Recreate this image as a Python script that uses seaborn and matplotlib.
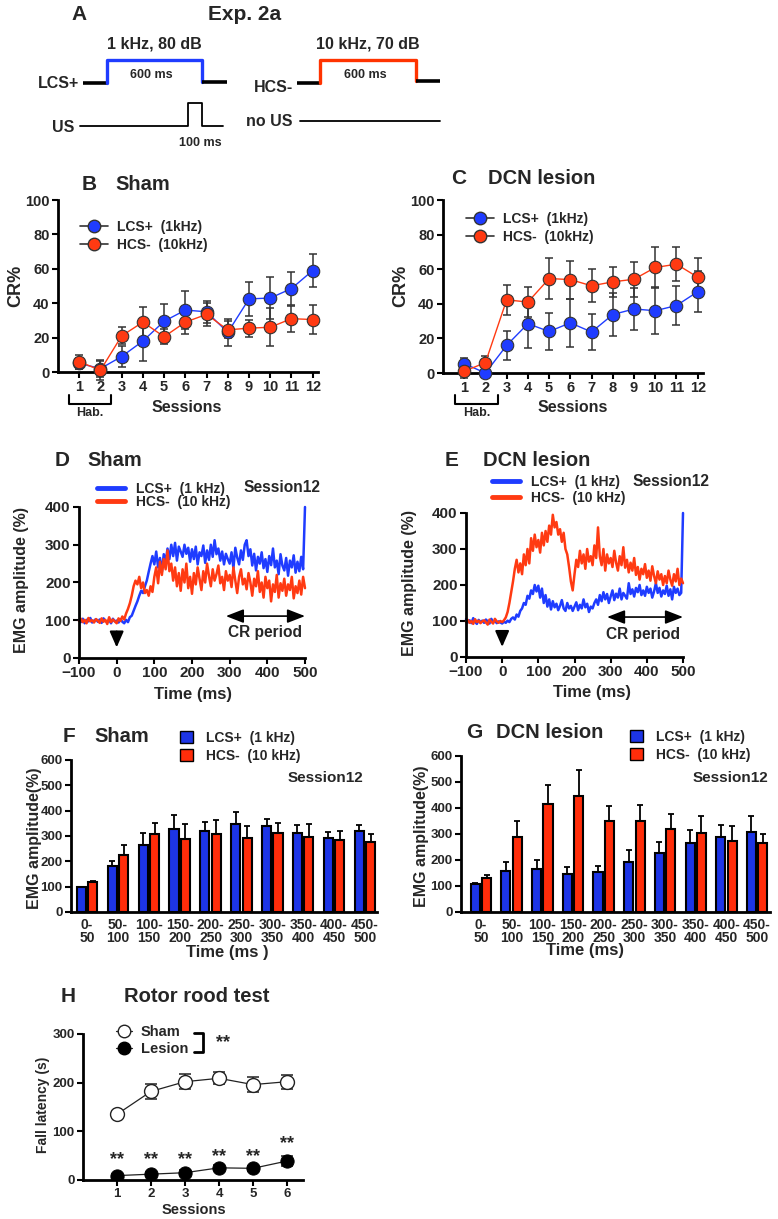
import matplotlib
matplotlib.use('Agg')
import numpy as np
import pandas as pd
import matplotlib.pyplot as plt
import seaborn as sns
from matplotlib import font_manager
from matplotlib.lines import Line2D
from matplotlib.patches import Patch

# ---------------- data ----------------
sessions = [1, 2, 3, 4, 5, 6, 7, 8, 9, 10, 11, 12]

# B: sham CR%
b_lcs = [5, 2, 9, 18, 29.5, 36, 35, 23, 42.5, 43, 48.5, 59]
b_lcs_err = [3, 5, 6, 11.5, 10, 11, 6.5, 8, 10, 12, 9.5, 9.5]
b_hcs = [6, 1, 21, 29, 20.5, 29, 33.5, 24.5, 25.5, 26, 31, 30.5]
b_hcs_err = [4, 5.5, 5, 9, 4.5, 7, 6.5, 5, 5, 11, 7.5, 8.5]

# C: DCN lesion CR%
c_lcs = [5.4, 0, 16, 28.5, 24, 29, 23.7, 33.8, 37, 36, 39, 47]
c_lcs_err = [3, 2, 8.5, 14, 10.5, 14, 10.5, 12.5, 12, 13.5, 11.5, 12]
c_hcs = [1, 6, 42.3, 41, 54.6, 54, 50.4, 52.7, 54.2, 61, 62.9, 55.4]
c_hcs_err = [4, 4, 8.5, 8.5, 12, 11, 9.5, 8.5, 10, 12, 10, 11]

# D/E: EMG traces, session 12 (5 ms steps from -100 to 500 ms)
t_ms = np.arange(-100, 505, 5)
d_lcs = [100, 95, 104, 92, 101, 97, 106, 94, 99, 103,
         96, 102, 93, 105, 98, 95, 101, 92, 104, 97,
         99, 94, 103, 96, 92, 101, 95, 108, 112, 125,
         138, 150, 165, 178, 172, 190, 205, 228, 250, 270,
         248, 282, 240, 265, 228, 275, 255, 290, 262, 300,
         270, 305, 258, 295, 282, 268, 300, 276, 292, 255,
         288, 262, 295, 248, 280, 270, 298, 252, 285, 260,
         300, 268, 312, 275, 290, 258, 282, 248, 276, 262,
         250, 280, 238, 292, 266, 248, 285, 260, 300, 312,
         270, 288, 245, 276, 232, 268, 250, 280, 238, 262,
         228, 270, 246, 290, 240, 258, 222, 275, 245, 232,
         265, 218, 258, 240, 272, 226, 255, 230, 268, 235,
         400]
d_hcs = [98, 104, 95, 101, 92, 106, 97, 100, 94, 103,
         99, 93, 105, 96, 101, 90, 108, 95, 102, 97,
         92, 105, 98, 110, 102, 118, 130, 145, 165, 190,
         205, 195, 215, 185, 200, 172, 180, 165, 190, 175,
         215, 240, 198, 255, 220, 262, 235, 285, 230, 250,
         205, 240, 190, 225, 178, 235, 200, 250, 185, 215,
         170, 225, 195, 240, 210, 180, 230, 200, 250, 218,
         190, 235, 205, 222, 245, 198, 215, 180, 230, 205,
         220, 188, 240, 205, 172, 215, 235, 195, 210, 182,
         225, 200, 165, 210, 190, 230, 175, 200, 160, 215,
         185, 205, 150, 195, 175, 220, 160, 198, 178, 210,
         165, 195, 180, 215, 158, 190, 172, 205, 168, 215,
         185]
e_lcs = [105, 96, 102, 94, 108, 98, 92, 103, 97, 101,
         95, 104, 99, 93, 106, 97, 101, 94, 99, 96,
         93, 98, 95, 101, 97, 106, 110, 104, 118, 112,
         128, 135, 150, 145, 170, 162, 185, 175, 200, 182,
         198, 165, 190, 150, 172, 140, 160, 132, 155, 138,
         148, 130, 142, 158, 135, 128, 150, 135, 142, 128,
         140, 152, 130, 145, 135, 160, 138, 148, 125, 140,
         135, 150, 160, 145, 172, 155, 180, 160, 175, 150,
         168, 185, 158, 176, 165, 190, 160, 178, 170, 162,
         205, 175, 188, 168, 192, 180, 200, 172, 185, 170,
         195, 178, 190, 165, 182, 205, 178, 192, 168, 185,
         175, 198, 170, 188, 160, 195, 178, 190, 172, 178,
         400]
e_hcs = [98, 103, 95, 100, 92, 105, 97, 101, 94, 99,
         102, 96, 90, 104, 98, 93, 106, 99, 95, 100,
         97, 102, 110, 125, 150, 180, 210, 245, 270, 235,
         260, 230, 285, 255, 300, 260, 330, 295, 340, 305,
         325, 290, 345, 310, 350, 320, 365, 340, 395, 360,
         375, 340, 355, 320, 345, 300, 285, 250, 210, 185,
         230, 270, 250, 295, 260, 285, 245, 300, 265, 280,
         255, 310, 275, 360, 280, 255, 300, 240, 285, 260,
         275, 250, 295, 262, 240, 280, 255, 305, 248, 270,
         235, 262, 240, 275, 228, 250, 215, 245, 230, 258,
         220, 240, 212, 252, 225, 205, 238, 215, 230, 200,
         225, 205, 240, 215, 198, 230, 210, 245, 200, 218,
         205]

# F/G: binned EMG amplitude
bins = ['0-\n50', '50-\n100', '100-\n150', '150-\n200', '200-\n250',
        '250-\n300', '300-\n350', '350-\n400', '400-\n450', '450-\n500']
f_lcs = [97, 180, 263, 329, 319, 349, 338, 313, 293, 318]
f_lcs_err = [3, 23, 50, 54, 37, 47, 30, 32, 23, 27]
f_hcs = [118, 224, 306, 287, 307, 292, 311, 297, 283, 275]
f_hcs_err = [4, 40, 47, 61, 58, 46, 42, 50, 38, 34]
g_lcs = [106, 158, 167, 147, 154, 191, 228, 267, 287, 309]
g_lcs_err = [4, 34, 33, 25, 23, 47, 43, 50, 49, 60]
g_hcs = [129, 290, 414, 447, 350, 350, 319, 304, 274, 265]
g_hcs_err = [15, 61, 76, 99, 59, 60, 59, 64, 55, 36]

# H: rotor rod
rr_sessions = [1, 2, 3, 4, 5, 6]
rr_sham = [135, 182, 202, 209, 196, 202]
rr_sham_err = [3, 15, 15, 12, 15, 14]
rr_lesion = [9, 12, 15, 25, 24, 39]
rr_lesion_err = [4, 4, 5, 5, 5, 11]
rr_star_y = [41, 41, 41, 48, 48, 74]

# ---------------- style ----------------
sns.set_theme(style='ticks')
plt.rcParams['font.family'] = ['Liberation Sans', 'DejaVu Sans']
plt.rcParams['font.weight'] = 'bold'
plt.rcParams['axes.labelweight'] = 'bold'

names = {f.name for f in font_manager.fontManager.ttflist}
narrow = 'Liberation Sans Narrow' if 'Liberation Sans Narrow' in names else 'Liberation Sans'

BLUE = '#1f3cff'
RED = '#ff3a12'
BAR_BLUE = '#1d35e6'
BAR_RED = '#ff2d0a'

W, H = 778, 1219
fig = plt.figure(figsize=(W / 100, H / 100), dpi=100)

# overlay in pixel coords for texts and the schematic
ax0 = fig.add_axes([0, 0, 1, 1])
ax0.set_xlim(0, W)
ax0.set_ylim(H, 0)
ax0.axis('off')


def txt(x, y, s, size, ha='center', va='center', **kw):
    ax0.text(x, y, s, fontsize=size, ha=ha, va=va, fontweight='bold', **kw)


def add_ax(l, t, r, b):
    ax = fig.add_axes([l / W, 1 - b / H, (r - l) / W, (b - t) / H])
    ax.set_facecolor('none')
    sns.despine(ax=ax)
    for s in ['left', 'bottom']:
        ax.spines[s].set_linewidth(2)
        ax.spines[s].set_color('black')
    ax.tick_params(width=1.5, length=4, color='black', pad=2)
    return ax


# ---------------- A: schematic ----------------
txt(79, 15, 'A', 15)
txt(245, 15, 'Exp. 2a', 15, family=narrow)
txt(154, 44, '1 kHz, 80 dB', 11.5, family=narrow)
txt(368, 44, '10 kHz, 70 dB', 11.5, family=narrow)
ax0.plot([83, 107], [83, 83], color='black', lw=2.6, solid_capstyle='butt')
ax0.plot([107, 107, 202, 202], [83, 60, 60, 82], color='#1f3cff', lw=2.4)
ax0.plot([202, 227], [82, 82], color='black', lw=2.6, solid_capstyle='butt')
txt(151, 75, '600 ms', 9, family=narrow)
txt(79, 84, 'LCS+', 11.5, ha='right', family=narrow)
txt(74, 127, 'US', 11.5, ha='right', family=narrow)
ax0.plot([80, 188, 188, 202, 202, 223], [126, 126, 103, 103, 126, 126], color='black', lw=1.3)
txt(200, 143, '100 ms', 9, family=narrow)
ax0.plot([297, 320], [83, 83], color='black', lw=2.6, solid_capstyle='butt')
ax0.plot([320, 320, 416, 416], [83, 60, 60, 81], color='#ff3300', lw=2.4)
ax0.plot([416, 440], [81, 81], color='black', lw=2.6, solid_capstyle='butt')
txt(365, 75, '600 ms', 9, family=narrow)
txt(293, 88, 'HCS-', 11.5, ha='right', family=narrow)
txt(293, 122, 'no US', 11.5, ha='right', family=narrow)
ax0.plot([300, 440], [121, 121], color='black', lw=1.3)


# ---------------- B / C ----------------
def cr_panel(rect, lcs, lcs_err, hcs, hcs_err, leg_xy):
    ax = add_ax(*rect)
    for vals, err, col in [(lcs, lcs_err, BLUE), (hcs, hcs_err, RED)]:
        ax.errorbar(sessions, vals, yerr=err, fmt='none', ecolor='#333333',
                    elinewidth=1.1, capsize=3, capthick=1.1, zorder=2, clip_on=False)
        sns.lineplot(x=sessions, y=vals, ax=ax, color=col, lw=1, marker='o',
                     markersize=9, markerfacecolor=col, markeredgecolor='#333333',
                     markeredgewidth=0.8, zorder=3, clip_on=False)
    ax.set_xlim(0, 12.25)
    ax.set_ylim(0, 100)
    ax.set_xticks(sessions)
    ax.set_yticks([0, 20, 40, 60, 80, 100])
    ax.tick_params(labelsize=10.5)
    handles = [Line2D([0], [0], color='#333333', lw=1.2, marker='o', ms=9,
                      mfc=BLUE, mec='#333333'),
               Line2D([0], [0], color='#333333', lw=1.2, marker='o', ms=9,
                      mfc=RED, mec='#333333')]
    ax.legend(handles, ['LCS+  (1kHz)', 'HCS-  (10kHz)'], loc='upper left',
              bbox_to_anchor=leg_xy, bbox_transform=ax0.transData, frameon=False,
              fontsize=10, handlelength=2.0, handletextpad=0.7, labelspacing=0.3,
              borderpad=0, borderaxespad=0)
    return ax


axB = cr_panel((58, 200, 318, 372), b_lcs, b_lcs_err, b_hcs, b_hcs_err, (80, 220))
axC = cr_panel((443, 200, 703, 373), c_lcs, c_lcs_err, c_hcs, c_hcs_err, (466, 212))

txt(89, 184, 'B', 15)
txt(115, 185, 'Sham', 14.5, ha='left')
txt(459, 178, 'C', 15)
txt(488, 178, 'DCN lesion', 14.5, ha='left')
txt(16, 286, 'CR%', 13, rotation=90)
txt(401, 286, 'CR%', 13, rotation=90)
for x0, x1, sx in [(69, 111, 187), (455, 498, 573)]:
    ax0.plot([x0, x0, x1, x1], [395, 404, 404, 395], color='black', lw=1.5)
    txt((x0 + x1) / 2, 413, 'Hab.', 9)
    txt(sx, 407, 'Sessions', 11.5)


# ---------------- D / E ----------------
def emg_panel(rect, lcs, hcs, leg_xy, leg_gap):
    ax = add_ax(*rect)
    sns.lineplot(x=t_ms, y=hcs, ax=ax, color=RED, lw=1.8, estimator=None,
                 sort=False, zorder=2, clip_on=False)
    sns.lineplot(x=t_ms, y=lcs, ax=ax, color=BLUE, lw=1.8, estimator=None,
                 sort=False, zorder=1, clip_on=False)
    ax.set_xlim(-100, 500)
    ax.set_ylim(0, 400)
    ax.set_xticks([-100, 0, 100, 200, 300, 400, 500])
    ax.set_yticks([0, 100, 200, 300, 400])
    ax.tick_params(labelsize=11)
    ax.annotate('', xy=(290, 111), xytext=(500, 111),
                arrowprops=dict(arrowstyle='<|-|>,head_length=0.9,head_width=0.35',
                                color='black', lw=1.2, shrinkA=0, shrinkB=0))
    ax.annotate('', xy=(0, 28), xytext=(0, 70),
                arrowprops=dict(arrowstyle='-|>,head_length=0.8,head_width=0.35',
                                color='black', lw=1.5, shrinkA=0, shrinkB=0))
    handles = [Line2D([0], [0], color=BLUE, lw=3.5), Line2D([0], [0], color=RED, lw=3.5)]
    ax.legend(handles, ['LCS+  (1 kHz)', 'HCS-  (10 kHz)'], loc='upper left',
              bbox_to_anchor=leg_xy, bbox_transform=ax0.transData, frameon=False,
              fontsize=10, handlelength=2.0, handletextpad=0.8, labelspacing=leg_gap,
              borderpad=0, borderaxespad=0)
    return ax


axD = emg_panel((79, 507, 305, 658), d_lcs, d_hcs, (97, 482), -0.05)
axE = emg_panel((466, 513, 683, 657), e_lcs, e_hcs, (492, 475), 0.15)

txt(62, 460, 'D', 15)
txt(87, 460, 'Sham', 14.5, ha='left')
txt(452, 460, 'E', 15)
txt(483, 460, 'DCN lesion', 14.5, ha='left')
txt(282, 488, 'Session12', 11.2)
txt(671, 482, 'Session12', 11.2)
txt(265, 633, 'CR period', 11.2)
txt(643, 634, 'CR period', 11.2)
txt(22, 580, 'EMG amplitude (%)', 11.5, rotation=90)
txt(410, 583, 'EMG amplitude (%)', 11.5, rotation=90)
txt(193, 694, 'Time (ms)', 12)
txt(592, 692, 'Time (ms)', 12)


# ---------------- F / G ----------------
def bar_panel(rect, lcs, lcs_err, hcs, hcs_err, xlim, leg_xy):
    ax = add_ax(*rect)
    df = pd.DataFrame({'bin': bins * 2, 'amp': lcs + hcs,
                       'cs': ['LCS+'] * len(bins) + ['HCS-'] * len(bins)})
    sns.barplot(data=df, x='bin', y='amp', hue='cs', order=bins,
                hue_order=['LCS+', 'HCS-'], palette=[BAR_BLUE, BAR_RED],
                saturation=1, width=0.74, gap=0.2, edgecolor='black',
                linewidth=1.5, errorbar=None, legend=False, ax=ax, zorder=2)
    bars = sorted(ax.patches, key=lambda p: p.get_x())
    xs = [p.get_x() + p.get_width() / 2 for p in bars]
    hs = [p.get_height() for p in bars]
    errs = [v for pair in zip(lcs_err, hcs_err) for v in pair]
    ax.errorbar(xs, hs, yerr=[np.zeros(len(errs)), errs], fmt='none', ecolor='black',
                elinewidth=1.3, capsize=2.5, capthick=1.3, zorder=1)
    ax.set_xlim(*xlim)
    ax.set_ylim(0, 600)
    ax.set_yticks(range(0, 700, 100))
    ax.set_xlabel('')
    ax.set_ylabel('')
    ax.tick_params(axis='y', labelsize=9.5)
    ax.tick_params(axis='x', labelsize=10, length=0, pad=4)
    for lab in ax.get_xticklabels():
        lab.set_linespacing(0.95)
    handles = [Patch(facecolor=BAR_BLUE, edgecolor='black', lw=1),
               Patch(facecolor=BAR_RED, edgecolor='black', lw=1)]
    ax.legend(handles, ['LCS+  (1 kHz)', 'HCS-  (10 kHz)'], loc='upper left',
              bbox_to_anchor=leg_xy, bbox_transform=ax0.transData, frameon=False,
              fontsize=10, handlelength=0.95, handleheight=0.95, handletextpad=0.9,
              labelspacing=0.3, borderpad=0, borderaxespad=0)
    return ax


axF = bar_panel((71, 760, 377, 912), f_lcs, f_lcs_err, f_hcs, f_hcs_err,
                (-0.52, 9.39), (180, 731))
axG = bar_panel((461, 756, 770, 912), g_lcs, g_lcs_err, g_hcs, g_hcs_err,
                (-0.65, 9.42), (630, 730))

txt(69, 737, 'F', 15)
txt(94, 737, 'Sham', 14.5, ha='left')
txt(474, 732, 'G', 15)
txt(496, 732, 'DCN lesion', 14.5, ha='left')
txt(325, 778, 'Session12', 11)
txt(730, 778, 'Session12', 11)
txt(35, 838, 'EMG amplitude(%)', 11.5, rotation=90)
txt(422, 836, 'EMG amplitude(%)', 11.5, rotation=90)
txt(227, 952, 'Time (ms )', 12)
txt(585, 950, 'Time (ms)', 12)


# ---------------- H ----------------
axH = add_ax(83, 1034, 303, 1180)
axH.errorbar(rr_sessions, rr_sham, yerr=rr_sham_err, fmt='none', ecolor='#222222',
             elinewidth=1.1, capsize=4, capthick=1.1, zorder=2)
axH.errorbar(rr_sessions, rr_lesion, yerr=rr_lesion_err, fmt='none', ecolor='#222222',
             elinewidth=1.1, capsize=4, capthick=1.1, zorder=2)
sns.lineplot(x=rr_sessions, y=rr_sham, ax=axH, color='#222222', lw=0.9, marker='o',
             markersize=10, markerfacecolor='white', markeredgecolor='#222222',
             markeredgewidth=1, zorder=3)
sns.lineplot(x=rr_sessions, y=rr_lesion, ax=axH, color='#222222', lw=0.9, marker='o',
             markersize=9.5, markerfacecolor='black', markeredgecolor='black', zorder=3)
for x, y in zip(rr_sessions, rr_star_y):
    axH.text(x, y, '**', ha='center', va='center', fontsize=13, fontweight='bold')
axH.set_xlim(0, 6.47)
axH.set_ylim(0, 300)
axH.set_xticks(rr_sessions)
axH.set_yticks([0, 100, 200, 300])
axH.tick_params(labelsize=9.5)
h_handles = [Line2D([0], [0], color='#222222', lw=0.9, marker='o', ms=9, mfc='white', mec='#222222'),
             Line2D([0], [0], color='#222222', lw=0.9, marker='o', ms=9, mfc='black', mec='black')]
axH.legend(h_handles, ['Sham', 'Lesion'], loc='upper left', bbox_to_anchor=(116, 1025),
           bbox_transform=ax0.transData, frameon=False, fontsize=10.5,
           handlelength=1.1, handletextpad=0.6, labelspacing=0.2, borderpad=0,
           borderaxespad=0)
ax0.plot([194, 203, 203, 194], [1033, 1033, 1052, 1052], color='black', lw=2)
txt(223, 1043, '**', 13)

txt(68, 997, 'H', 15)
txt(197, 997, 'Rotor rood test', 14.5)
txt(43, 1105, 'Fall latency (s)', 10, rotation=90)
txt(194, 1210, 'Sessions', 10.5)

fig.savefig('out.png', dpi=100)
